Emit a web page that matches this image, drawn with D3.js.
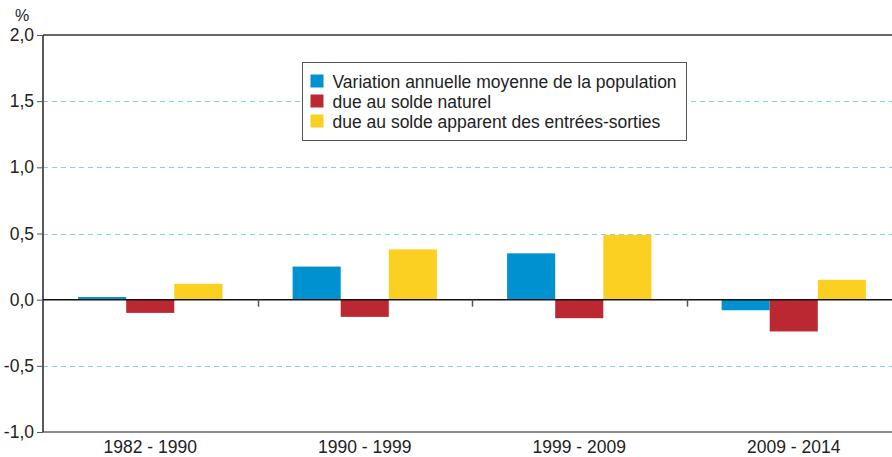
<!DOCTYPE html>
<html>
<head>
<meta charset="utf-8">
<script src="https://cdn.jsdelivr.net/npm/d3@7"></script>
<style>
  body { margin: 0; background: #fff; }
  svg { display: block; font-family: "Liberation Sans", Arial, sans-serif; }
</style>
</head>
<body>
<svg id="chart" width="892" height="457"></svg>
<script>
// Periods and series
var periods = ["1982 - 1990", "1990 - 1999", "1999 - 2009", "2009 - 2014"];
var seriesNames = [
    "Variation annuelle moyenne de la population",
    "due au solde naturel",
    "due au solde apparent des entrées-sorties"
];
var seriesColors = ["#0091d0", "#bb2831", "#fbd021"];
var variation = [0.02, 0.25, 0.35, -0.08];
var soldeNaturel = [-0.10, -0.13, -0.14, -0.24];
var soldeApparent = [0.12, 0.38, 0.49, 0.15];
var yTicks = [-1.0, -0.5, 0.0, 0.5, 1.0, 1.5, 2.0];

var seriesValues = [variation, soldeNaturel, soldeApparent];

var svg = d3.select("#chart");

var plotLeft = 43, plotRight = 901, plotTop = 35, plotBottom = 432;

var x = d3.scaleBand()
    .domain(periods)
    .range([plotLeft, plotRight])
    .padding(0);

var xSub = d3.scaleBand()
    .domain(d3.range(seriesNames.length))
    .range([0, x.bandwidth()])
    .paddingInner(0)
    .paddingOuter(0.73);

var y = d3.scaleLinear()
    .domain([-1, 2])
    .range([plotBottom, plotTop]);

// french number format with a plain hyphen
var frFormat = d3.formatLocale({ decimal: ",", thousands: " ", grouping: [3], currency: ["", " €"], minus: "-" }).format(".1f");

// dashed grid lines
svg.append("g")
    .selectAll("line")
    .data(yTicks.filter(function(d) { return d !== 0 && d !== 2 && d !== -1; }))
    .enter().append("line")
    .attr("x1", plotLeft)
    .attr("x2", 892)
    .attr("y1", function(d) { return Math.round(y(d)) + 0.5; })
    .attr("y2", function(d) { return Math.round(y(d)) + 0.5; })
    .attr("stroke", "#85cfee")
    .attr("stroke-width", 1)
    .attr("stroke-dasharray", "5,4");

// top frame line
svg.append("line")
    .attr("x1", plotLeft).attr("x2", 892)
    .attr("y1", y(2)).attr("y2", y(2))
    .attr("stroke", "#333")
    .attr("stroke-width", 1.5);

// bars
var groups = svg.append("g")
    .selectAll("g")
    .data(periods)
    .enter().append("g")
    .attr("transform", function(d) { return "translate(" + x(d) + ",0)"; });

groups.selectAll("rect")
    .data(function(d, i) {
        return seriesValues.map(function(vals, s) { return { s: s, v: vals[i] }; });
    })
    .enter().append("rect")
    .attr("x", function(d) { return xSub(d.s); })
    .attr("width", xSub.bandwidth())
    .attr("y", function(d) { return y(Math.max(0, d.v)); })
    .attr("height", function(d) { return Math.abs(y(d.v) - y(0)); })
    .attr("fill", function(d) { return seriesColors[d.s]; });

// zero line
svg.append("line")
    .attr("x1", plotLeft).attr("x2", 892)
    .attr("y1", y(0)).attr("y2", y(0))
    .attr("stroke", "#111")
    .attr("stroke-width", 1.5);

// separators between periods
svg.append("g")
    .selectAll("line")
    .data(periods.slice(1))
    .enter().append("line")
    .attr("x1", function(d) { return Math.round(x(d)) + 0.5; })
    .attr("x2", function(d) { return Math.round(x(d)) + 0.5; })
    .attr("y1", y(0))
    .attr("y2", y(0) + 7)
    .attr("stroke", "#555")
    .attr("stroke-width", 1.5);

// bottom axis
var xAxis = svg.append("g")
    .attr("transform", "translate(0," + plotBottom + ")")
    .call(d3.axisBottom(x).tickSize(0).tickPadding(9));
xAxis.select(".domain").attr("stroke", "#666").attr("stroke-width", 1.5).attr("d", "M" + plotLeft + ",0H892");
xAxis.selectAll("text").attr("font-size", "17.5px").attr("fill", "#222")
    .attr("font-family", "'Liberation Sans', Arial, sans-serif");

// left axis
var yAxis = svg.append("g")
    .attr("transform", "translate(" + plotLeft + ",0)")
    .call(d3.axisLeft(y)
        .tickValues(yTicks)
        .tickSize(6)
        .tickPadding(3)
        .tickFormat(frFormat));
yAxis.select(".domain").attr("stroke", "#222").attr("stroke-width", 1.5).attr("d", "M0," + plotTop + "V" + plotBottom);
yAxis.selectAll(".tick line").attr("stroke", "#555");
yAxis.selectAll("text").attr("font-size", "17.5px").attr("fill", "#222")
    .attr("font-family", "'Liberation Sans', Arial, sans-serif");

svg.append("text")
    .attr("x", 22)
    .attr("y", 21)
    .attr("text-anchor", "middle")
    .attr("font-size", "16px")
    .attr("fill", "#222")
    .text("%");

// legend
var legend = svg.append("g").attr("transform", "translate(302.5,62.5)");
legend.append("rect")
    .attr("width", 384)
    .attr("height", 78)
    .attr("fill", "#fff")
    .attr("stroke", "#555")
    .attr("stroke-width", 1);

var items = legend.selectAll(".item")
    .data(seriesNames)
    .enter().append("g")
    .attr("class", "item")
    .attr("transform", function(d, i) { return "translate(8," + (12 + i * 20) + ")"; });

items.append("rect")
    .attr("width", 13)
    .attr("height", 13)
    .attr("fill", function(d, i) { return seriesColors[i]; });

items.append("text")
    .attr("x", 22)
    .attr("y", 13)
    .attr("font-size", "17.5px")
    .attr("fill", "#222")
    .text(function(d) { return d; });
</script>
</body>
</html>
